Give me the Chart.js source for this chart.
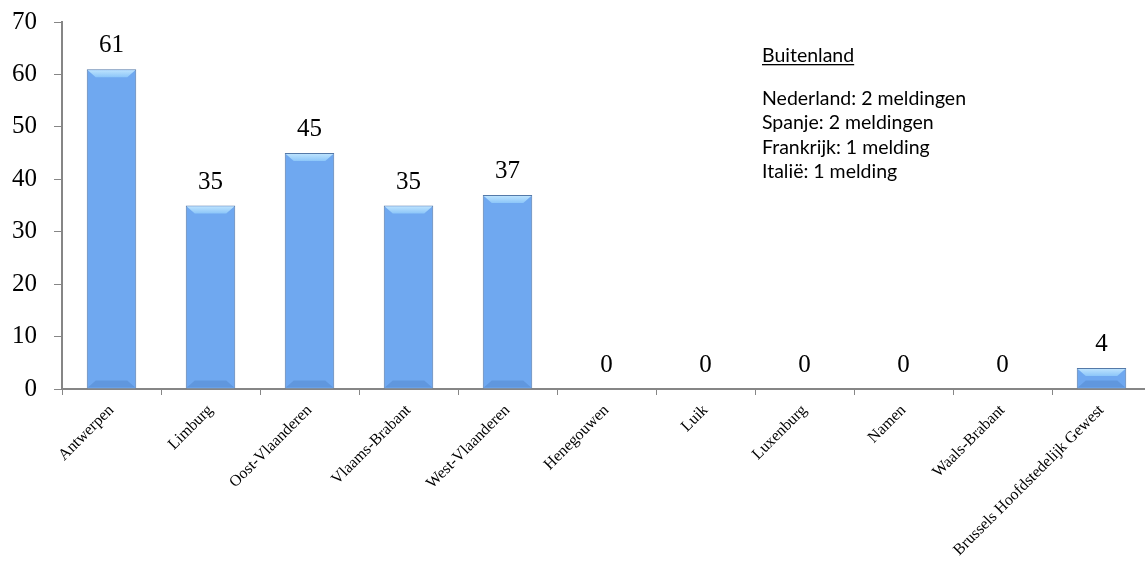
<!DOCTYPE html>
<html>
<head>
<meta charset="utf-8">
<script src="https://cdn.jsdelivr.net/npm/chart.js@4.4.0/dist/chart.umd.min.js"></script>
<style>
  html, body { margin: 0; padding: 0; background: #fff; overflow: hidden; }
  #wrap { width: 1145px; height: 563px; overflow: hidden; }
</style>
</head>
<body>
<div id="wrap"><canvas id="chart" width="1160" height="563"></canvas></div>
<script>
const provinces = ['Antwerpen', 'Limburg', 'Oost-Vlaanderen', 'Vlaams-Brabant', 'West-Vlaanderen',
  'Henegouwen', 'Luik', 'Luxenburg', 'Namen', 'Waals-Brabant', 'Brussels Hoofdstedelijk Gewest'];
const meldingen = [61, 35, 45, 35, 37, 0, 0, 0, 0, 0, 4];
const yTicks = [0, 10, 20, 30, 40, 50, 60, 70];
const buitenlandTitle = 'Buitenland';
const buitenland = ['Nederland: 2 meldingen', 'Spanje: 2 meldingen', 'Frankrijk: 1 melding', 'Italië: 1 melding'];

const serif = '"Liberation Serif", "DejaVu Serif", serif';
const sans = 'Lato, "Open Sans", sans-serif';

function barFill(ctx) {
    const el = ctx.element;
    const c = ctx.chart.ctx;
    if (!el || el.width == null) return '#6fa8f0';
    const x0 = el.x - el.width / 2, x1 = el.x + el.width / 2;
    const g = c.createLinearGradient(x0, 0, x1, 0);
    g.addColorStop(0, '#5384cc');
    g.addColorStop(0.14, '#66a0ec');
    g.addColorStop(0.5, '#76b0f8');
    g.addColorStop(0.86, '#66a0ec');
    g.addColorStop(1, '#5384cc');
    return g;
}

// bevel highlight on top and bottom of bars
const bevel = {
    id: 'bevel',
    afterDatasetsDraw(chart) {
        const c = chart.ctx;
        chart.getDatasetMeta(0).data.forEach((bar, i) => {
            if (!meldingen[i]) return;
            const x0 = bar.x - bar.width / 2, x1 = bar.x + bar.width / 2;
            const top = bar.y, bot = bar.base;
            const b = Math.min(8, (bot - top) / 2);
            c.save();
            let g = c.createLinearGradient(0, top, 0, top + b);
            g.addColorStop(0, '#c2e6fe');
            g.addColorStop(1, '#8cc6f9');
            c.fillStyle = g;
            c.beginPath();
            c.moveTo(x0 + 1, top + 1); c.lineTo(x1 - 1, top + 1);
            c.lineTo(x1 - 1 - b, top + b); c.lineTo(x0 + 1 + b, top + b);
            c.closePath(); c.fill();
            c.fillStyle = 'rgba(70,120,190,0.35)';
            c.beginPath();
            c.moveTo(x0 + 1, bot - 1); c.lineTo(x1 - 1, bot - 1);
            c.lineTo(x1 - 1 - b, bot - b); c.lineTo(x0 + 1 + b, bot - b);
            c.closePath(); c.fill();
            c.restore();
        });
    }
};

const valueLabels = {
    id: 'valueLabels',
    afterDatasetsDraw(chart) {
        const c = chart.ctx;
        c.save();
        c.font = '25px ' + serif;
        c.fillStyle = '#000';
        c.textAlign = 'center';
        c.textBaseline = 'alphabetic';
        chart.getDatasetMeta(0).data.forEach((bar, i) => {
            c.fillText(String(meldingen[i]), bar.x, bar.y - 17);
        });
        c.restore();
    }
};

const notes = {
    id: 'notes',
    afterDraw(chart) {
        const c = chart.ctx;
        c.save();
        c.font = '19.5px ' + sans;
        c.fillStyle = '#000';
        c.textBaseline = 'alphabetic';
        const x = 762;
        c.fillText(buitenlandTitle, x, 62);
        const w = c.measureText(buitenlandTitle).width;
        c.fillRect(x, 64, w, 1.3);
        buitenland.forEach((t, i) => c.fillText(t, x, 105 + i * 24.3));
        c.restore();
    }
};

new Chart(document.getElementById('chart'), {
    type: 'bar',
    data: {
        labels: provinces,
        datasets: [{
            data: meldingen,
            backgroundColor: barFill,
            borderColor: '#5479a8',
            borderWidth: 1,
            categoryPercentage: 1,
            barPercentage: 0.5
        }]
    },
    options: {
        responsive: false,
        animation: false,
        layout: { padding: { top: 22, right: 9, left: 0, bottom: 0 } },
        plugins: { legend: { display: false }, tooltip: { enabled: false } },
        scales: {
            x: {
                offset: true,
                grid: { offset: true, drawOnChartArea: false, drawTicks: true, tickLength: 6, color: '#868686' },
                border: { color: '#868686', width: 2 },
                ticks: {
                    font: { family: serif, size: 16 },
                    color: '#000',
                    maxRotation: 45,
                    minRotation: 45,
                    autoSkip: false,
                    padding: 6
                },
                afterFit(scale) { scale.height = 174; }
            },
            y: {
                min: 0,
                max: 70,
                afterBuildTicks(scale) { scale.ticks = yTicks.map(v => ({ value: v })); },
                grid: { drawOnChartArea: false, drawTicks: true, tickLength: 8, color: '#868686' },
                border: { color: '#868686', width: 2 },
                ticks: {
                    font: { family: serif, size: 25, lineHeight: 0.4 },
                    color: '#000',
                    padding: 17
                },
                afterFit(scale) { scale.width = 62; }
            }
        }
    },
    plugins: [bevel, valueLabels, notes]
});
</script>
</body>
</html>
